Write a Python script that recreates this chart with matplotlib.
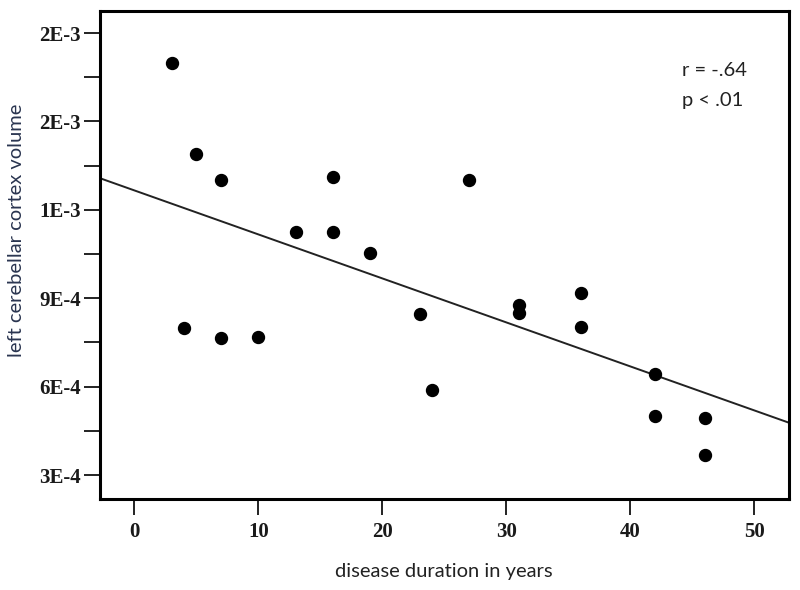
import numpy as np
import matplotlib
matplotlib.use('Agg')
import matplotlib.pyplot as plt
from matplotlib.ticker import FixedLocator

# disease duration (years) vs left cerebellar cortex volume
duration = [3, 5, 7, 16, 27, 13, 16, 19, 23, 4, 7, 10, 24,
            31, 31, 36, 36, 42, 42, 46, 46]
volume = [0.00170, 0.00139, 0.00130, 0.00131, 0.00130, 0.001126, 0.001124,
          0.001054, 0.000847, 0.000798, 0.000764, 0.000767, 0.000587,
          0.000877, 0.000850, 0.000917, 0.000801, 0.000644, 0.000501,
          0.000493, 0.000367]

# fitted line
fit_intercept = 0.001266
fit_slope = -1.4934e-5

ytick_vals = [0.0003, 0.0006, 0.0009, 0.0012, 0.0015, 0.0018]
ytick_labels = ['3E-4', '6E-4', '9E-4', '1E-3', '2E-3', '2E-3']
yminor_vals = [0.00045, 0.00075, 0.00105, 0.00135, 0.00165]
xtick_vals = [0, 10, 20, 30, 40, 50]

fig = plt.figure(figsize=(8, 5.9), dpi=100)
ax = fig.add_axes([0.1244, 0.1542, 0.8619, 0.8271])

xlim = (-2.806, 52.80)
ax.set_xlim(xlim)
ax.set_ylim(0.0002186, 0.0018747)

xx = np.array(xlim)
ax.plot(xx, fit_intercept + fit_slope * xx, color='#222222', lw=1.4, zorder=2)
ax.plot(duration, volume, 'o', color='black', markersize=8.6, zorder=3)

ax.set_yticks(ytick_vals)
ax.set_yticklabels(ytick_labels)
ax.yaxis.set_minor_locator(FixedLocator(yminor_vals))
ax.set_xticks(xtick_vals)

for s in ax.spines.values():
    s.set_linewidth(2.2)
ax.tick_params(which='both', direction='out', length=11.5, width=1.4, color='#222222')
ax.tick_params(axis='y', pad=2)
ax.tick_params(axis='x', pad=5)
for lab in ax.get_xticklabels() + ax.get_yticklabels():
    lab.set_fontfamily('Liberation Serif')
    lab.set_fontweight('bold')
    lab.set_fontsize(15)
    lab.set_color('#1a1a1a')

ax.set_xlabel('disease duration in years', fontfamily='Lato', fontsize=14.5,
              color='#222222', labelpad=15)
ax.set_ylabel('left cerebellar cortex volume', fontfamily='Lato', fontsize=14.5,
              color='#2a3550', labelpad=10)
ax.yaxis.label.set_y(0.551)

ax.text(0.845, 0.866, 'r = -.64', transform=ax.transAxes, fontfamily='Lato',
        fontsize=14.5, color='#222222', va='baseline')
ax.text(0.845, 0.805, 'p < .01', transform=ax.transAxes, fontfamily='Lato',
        fontsize=14.5, color='#222222', va='baseline')

fig.savefig('out.png', dpi=100)
